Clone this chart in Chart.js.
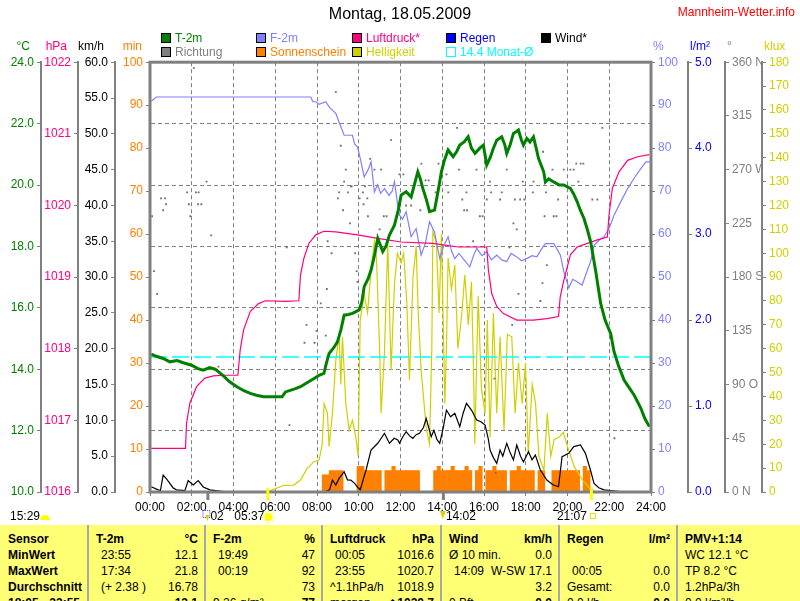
<!DOCTYPE html>
<html>
<head>
<meta charset="utf-8">
<script src="https://cdn.jsdelivr.net/npm/chart.js@4.4.1/dist/chart.umd.min.js"></script>
<style>
  html, body { margin: 0; padding: 0; background: #fff; overflow: hidden; }
  body { width: 800px; height: 601px; position: relative; font-family: Arial, "Liberation Sans", sans-serif; }
  #wrap { position: absolute; left: 0; top: 0; width: 800px; height: 525px; }
  table.stats { position: absolute; left: 0; top: 525px; width: 800px; border-collapse: collapse; table-layout: fixed; background: #ffff73; font-size: 12px; color: #000; }
  table.stats td { padding: 0 6px 0 7px; height: 16px; line-height: 16px; white-space: nowrap; overflow: hidden; border-left: 2px solid #a8a8a8; vertical-align: middle; }
  table.stats td:first-child { border-left: none; padding-left: 8px; font-weight: bold; }
  table.stats tr.head td { font-weight: bold; padding-top: 6px; }
  table.stats .c { display: flex; justify-content: space-between; }
  table.stats .t { padding-left: 5px; }
  table.stats b { font-weight: bold; }
</style>
</head>
<body>
<div id="wrap"><canvas id="wx" width="800" height="525"></canvas></div>

<table class="stats">
  <colgroup><col style="width:88px"><col style="width:117px"><col style="width:117px"><col style="width:119px"><col style="width:118px"><col style="width:118px"><col style="width:123px"></colgroup>
  <tr class="head">
    <td>Sensor</td>
    <td><div class="c"><span>T-2m</span><span>°C</span></div></td>
    <td><div class="c"><span>F-2m</span><span>%</span></div></td>
    <td><div class="c"><span>Luftdruck</span><span>hPa</span></div></td>
    <td><div class="c"><span>Wind</span><span>km/h</span></div></td>
    <td><div class="c"><span>Regen</span><span>l/m²</span></div></td>
    <td>PMV+1:14</td>
  </tr>
  <tr>
    <td>MinWert</td>
    <td><div class="c"><span class="t">23:55</span><span>12.1</span></div></td>
    <td><div class="c"><span class="t">19:49</span><span>47</span></div></td>
    <td><div class="c"><span class="t">00:05</span><span>1016.6</span></div></td>
    <td><div class="c"><span>Ø 10 min.</span><span>0.0</span></div></td>
    <td><div class="c"><span></span><span></span></div></td>
    <td>WC 12.1 °C</td>
  </tr>
  <tr>
    <td>MaxWert</td>
    <td><div class="c"><span class="t">17:34</span><span>21.8</span></div></td>
    <td><div class="c"><span class="t">00:19</span><span>92</span></div></td>
    <td><div class="c"><span class="t">23:55</span><span>1020.7</span></div></td>
    <td><div class="c"><span class="t">14:09</span><span>W-SW 17.1</span></div></td>
    <td><div class="c"><span class="t">00:05</span><span>0.0</span></div></td>
    <td>TP 8.2 °C</td>
  </tr>
  <tr>
    <td>Durchschnitt</td>
    <td><div class="c"><span class="t">(+ 2.38 )</span><span>16.78</span></div></td>
    <td><div class="c"><span></span><span>73</span></div></td>
    <td><div class="c"><span>^1.1hPa/h</span><span>1018.9</span></div></td>
    <td><div class="c"><span></span><span>3.2</span></div></td>
    <td><div class="c"><span>Gesamt:</span><span>0.0</span></div></td>
    <td>1.2hPa/3h</td>
  </tr>
  <tr>
    <td>18:05 - 23:55</td>
    <td><div class="c"><span></span><b>13.1</b></div></td>
    <td><div class="c"><span>9.26 g/m³</span><b>77</b></div></td>
    <td><div class="c"><span>morgen</span><b>◆1020.7</b></div></td>
    <td><div class="c"><span>0 Bft</span><b>0.0</b></div></td>
    <td><div class="c"><span>0.0 l/h</span><b>0.0</b></div></td>
    <td>0.0 l/m²/h</td>
  </tr>
</table>

<script>
// ---- DATA ----
const dayTitle = 'Montag, 18.05.2009';
const monthAvgC = 14.4;

// T-2m, °C
const tempHours = [0.06,0.3,0.63,0.95,1.3,1.59,1.99,2.3,2.55,2.85,3.12,3.52,3.8,4.16,4.5,4.8,5.1,5.44,6.0,6.33,6.49,6.9,7.21,7.5,7.86,8.1,8.33,8.45,8.58,8.8,8.98,9.15,9.3,9.5,9.7,10.02,10.15,10.26,10.45,10.59,10.75,10.91,11.0,11.15,11.3,11.47,11.71,11.9,12.03,12.27,12.51,12.7,12.83,12.95,13.07,13.25,13.39,13.63,13.8,13.96,14.1,14.28,14.52,14.7,14.84,15.05,15.24,15.4,15.57,15.8,15.97,16.13,16.3,16.45,16.61,16.85,17.0,17.09,17.25,17.41,17.57,17.65,17.8,17.89,18.05,18.2,18.37,18.5,18.61,18.86,18.94,19.1,19.34,19.6,19.82,20.14,20.3,20.46,20.6,20.79,20.95,21.11,21.35,21.59,21.8,22.07,22.23,22.45,22.71,22.95,23.19,23.35,23.52,23.7,23.92];
const tempC = [14.49,14.42,14.35,14.24,14.28,14.21,14.13,14.02,13.97,14.05,14.0,13.78,13.6,13.43,13.3,13.21,13.15,13.1,13.1,13.1,13.26,13.35,13.43,13.55,13.7,13.8,13.86,14.2,14.51,14.7,14.89,15.3,15.76,15.78,15.82,15.93,16.2,16.69,16.95,17.23,17.7,18.26,18.1,17.83,18.0,18.37,18.69,19.2,19.67,19.78,19.61,20.1,20.43,20.2,19.89,19.5,19.13,19.18,19.8,20.43,20.8,21.14,20.92,21.1,21.3,21.4,21.57,21.2,21.03,21.2,21.3,20.65,20.9,21.2,21.46,21.57,21.3,21.03,21.3,21.68,21.75,21.79,21.45,21.3,21.52,21.4,21.57,21.2,20.87,20.43,20.1,20.2,20.1,20.0,20.0,19.89,19.7,19.46,19.2,18.91,18.55,18.15,17.2,16.14,15.6,15.16,14.57,14.1,13.65,13.4,13.16,12.95,12.72,12.4,12.13];

// F-2m, %
const rhHours = [0.06,0.3,3,6,7.7,7.8,7.94,8.1,8.42,8.6,8.9,9.1,9.3,9.5,9.7,9.8,9.94,10.1,10.26,10.45,10.59,10.75,10.9,11.05,11.23,11.45,11.6,11.71,11.87,11.95,12.1,12.27,12.51,12.75,12.99,13.2,13.39,13.63,13.88,14.05,14.28,14.45,14.6,14.8,15.0,15.32,15.5,15.65,15.9,16.13,16.35,16.61,16.85,17.09,17.3,17.57,17.8,18.05,18.3,18.53,18.75,18.94,19.34,19.5,19.66,19.82,20.06,20.25,20.46,20.7,20.95,21.1,21.27,21.5,21.75,21.99,22.23,22.55,22.88,23.19,23.52,23.76,23.95];
const rhPct = [90.9,91.9,91.9,91.9,91.9,90.8,90.8,90.2,90.8,89.5,88.1,85.5,83.0,83.0,83.0,81.0,80.3,77.0,73.3,75.0,76.8,69.8,71.5,69.5,70.6,69.0,70.0,72.2,66.7,64.4,63.5,65.2,59.4,61.3,55.1,58.0,62.9,60.5,54.3,57.0,59.4,56.0,54.3,55.5,54.3,52.4,55.0,56.7,55.0,55.9,54.0,55.1,54.0,53.6,55.5,54.7,53.8,54.3,55.0,54.7,56.5,57.8,57.8,56.5,55.1,51.4,47.5,49.5,48.9,48.1,51.6,53.5,57.4,58.5,59.4,61.3,64.4,67.5,70.6,73.0,75.3,76.8,76.8];

// Luftdruck, hPa
const pressHours = [0.06,1.7,1.75,1.91,2.23,2.63,3.04,3.52,4.21,4.32,4.48,4.8,5.2,5.53,6.49,7.13,7.21,7.37,7.61,7.94,8.33,8.9,9.94,10.91,12.03,13.55,14.76,16.13,16.21,16.37,16.61,16.93,17.57,18.37,19.01,19.57,19.65,19.82,20.14,20.46,20.95,21.43,21.91,21.99,22.15,22.47,22.88,23.36,23.92];
const pressHpa = [1016.61,1016.61,1016.96,1017.24,1017.47,1017.59,1017.62,1017.63,1017.63,1017.98,1018.26,1018.52,1018.63,1018.67,1018.66,1018.67,1019.03,1019.26,1019.47,1019.59,1019.64,1019.63,1019.59,1019.54,1019.49,1019.47,1019.42,1019.42,1019.10,1018.77,1018.59,1018.49,1018.40,1018.40,1018.42,1018.45,1018.72,1018.95,1019.31,1019.42,1019.47,1019.52,1019.56,1019.87,1020.24,1020.47,1020.63,1020.68,1020.71];

// Wind, km/h
const windHours = [0.06,0.39,0.5,0.63,0.8,0.95,1.1,1.27,1.67,1.83,2.07,2.31,2.55,2.87,3.52,4.5,8.0,8.42,8.6,8.74,8.9,9.06,9.3,9.46,9.62,9.8,9.94,10.07,10.35,10.59,10.91,11.05,11.23,11.47,11.7,11.87,11.95,12.11,12.27,12.45,12.59,12.75,12.91,13.1,13.23,13.35,13.47,13.6,13.75,13.88,14.05,14.2,14.4,14.6,14.84,15.0,15.16,15.4,15.55,15.65,15.85,16.05,16.2,16.29,16.45,16.61,16.77,16.9,17.09,17.25,17.41,17.57,17.75,17.89,18.13,18.3,18.46,18.7,19.01,19.3,19.57,19.74,20.06,20.3,20.62,20.86,21.1,21.27,21.5,21.75,22.4,22.8,24];
const windKmh = [0.74,0.3,0.2,2.37,1.8,1.2,0.6,0.3,0.2,1.6,1.0,1.6,0.7,0.3,0.05,0,0,0.05,0.3,1.67,0.98,1.9,2.84,1.7,1.67,1.2,0.7,0.3,3.07,5.86,6.8,7.4,8.19,6.8,7.5,7.26,6.8,7.72,8.42,7.8,7.49,8.0,8.19,9.0,10.28,9.0,7.72,8.6,7.3,6.8,9.0,11.44,10.5,10.98,9.12,11.0,12.37,11.44,10.6,10.05,9.8,9.35,7.5,5.86,4.8,4.0,5.86,5.0,6.8,5.5,4.47,6.56,5.0,4.2,5.63,4.5,5.16,3.07,1.67,1.0,0.74,4.93,5.4,6.33,6.56,5.4,3.07,1.2,0.6,0.3,0.1,0,0];

// Helligkeit, klux
const luxHours = [0,5.5,5.84,6.41,6.89,7.21,7.53,7.86,8.1,8.25,8.34,8.5,8.58,8.74,8.9,9.06,9.14,9.22,9.38,9.54,9.7,9.86,9.97,10.07,10.26,10.42,10.59,10.75,10.85,11.0,11.07,11.23,11.39,11.55,11.71,11.85,12.03,12.15,12.3,12.43,12.6,12.75,12.85,12.99,13.1,13.23,13.39,13.5,13.55,13.72,13.85,13.96,14.05,14.12,14.2,14.28,14.44,14.6,14.75,14.92,15.08,15.25,15.4,15.5,15.56,15.72,15.88,16.05,16.16,16.29,16.45,16.61,16.77,16.96,17.12,17.33,17.49,17.65,17.83,17.99,18.12,18.31,18.47,18.63,18.87,19.03,19.2,19.36,19.6,19.8,20.0,20.32,20.72,21.03,21.3,21.6,24];
const luxKlux = [0,0,0.8,2.8,2.9,5.0,9.9,12.7,13.4,20,37,33,19,33,55,66,45,65,37,26,30,23,15,72,83,75,93,105,98,60,33,58,104,51,87,100,96,100,80,47,90,103,75,51,40,27,20,60,109,104,75,108,70,37,60,98,85,95,60,73,91,70,88,50,20,82,43,33,72,23,75,33,65,26,66,65,33,54,37,54,16,45,37,15,9,33,15,22,23,25,19,10.6,5,2,0.3,0,0];

// Sonnenschein, min per 10-minute bin starting 08:20
const sunStartHour = 8 + 20 / 60;
const sunMin = [4,4,5,5,5,5,0,0,0,0,6,6,5,5,5,5,5,0,5,5,6,5,5,5,5,5,5,5,0,0,0,0,5,6,5,5,5,6,5,5,5,6,5,0,5,6,0,5,5,6,5,5,5,0,5,5,6,5,5,5,5,0,5,5,0,0,5,5,5,5,5,5,5,5,0,6,5];

// Richtung, degrees
const dirHours = [2.1,8.9,11.55,9.14,10.55,9.38,10.75,11.07,11.95,2.71,9.3,9.62,9.66,10.3,1.78,2.2,2.33,9.06,9.49,10.2,0.53,0.72,9.0,10.04,10.41,0.77,1.86,2.3,2.46,10.23,0.63,9.25,0.1,1.93,10.44,11.2,11.33,9.58,11.0,2.93,8.51,6.55,8.7,9.83,0.19,9.9,0.34,9.94,8.47,8.18,7.5,7.4,7.88,7.98,8.42,3.28,6.68,21.67,14.71,18.83,13.0,13.82,20.42,20.63,20.76,12.14,14.2,15.64,17.09,14.8,13.2,13.35,16.29,17.86,19.82,20.14,20.3,18.37,19.28,20.52,13.68,14.29,15.16,16.34,16.85,18.34,18.97,12.51,14.96,16.13,16.77,17.48,17.73,17.93,19.55,21.19,21.43,12.27,12.95,15.05,15.19,20.63,15.8,15.93,18.9,19.34,19.47,17.41,17.57,15.48,17.22,19.01,18.8,17.65,18.7,17.35,16.5,16.56,22.25];
const dirDeg = [355,335,295,290,279,270,270,270,266,260,260,256,256,256,251,251,251,251,251,251,246,246,246,246,246,241,241,241,241,241,236,236,231,231,231,231,231,225,220,215,210,205,200,200,185,185,166,176,170,158,140,125,125,135,131,105,56,305,305,285,275,275,275,275,275,266,266,270,270,270,261,261,260,260,270,270,270,260,270,260,251,251,251,251,251,251,251,240,245,245,245,245,245,245,245,245,245,240,236,236,236,236,231,231,231,231,231,225,220,210,205,190,175,166,160,140,95,16,45];

// Sun / moon events (hours) shown under the time axis
const events = [
  { t: 2.75, text: '02', kind: 'moon' },
  { t: 5.62, text: '05:37', kind: 'rise' },
  { t: 14.03, text: '14:02', kind: 'noon' },
  { t: 21.12, text: '21:07', kind: 'set' }
];
const moonText = '15:29';

// ---- STYLE ----
const gray = '#808080';
const cT = '#008000', cRH = '#8080ff', cP = '#ff0080', cRain = '#0000ff', cWind = '#000000';
const cDir = '#808080', cSun = '#ff8000', cLux = '#d0d000', cMonth = '#00ffff';

const pairs = (xs, ys) => xs.map((x, i) => ({ x, y: ys[i] }));

Chart.defaults.font.family = 'Arial, "Liberation Sans", sans-serif';
Chart.defaults.font.size = 12;
Chart.defaults.color = '#000';

function sideAxis(position, weight, min, max, stepSize, color, fmt, width) {
  return {
    type: 'linear', position, weight, min, max,
    afterFit: s => { s.width = width; },
    grid: { drawOnChartArea: false, color: gray, tickLength: 4 },
    border: { display: true, color: gray, width: 2 },
    ticks: { stepSize, color, autoSkip: false, padding: 3, callback: fmt }
  };
}

const scaleC = sideAxis('left', 3, 10, 24, 2, cT, v => v.toFixed(1), 41);
scaleC.grid = { drawOnChartArea: true, color: gray, tickLength: 4 };
scaleC.border = { display: true, color: gray, width: 2, dash: [4, 3] };

const scaleMin = sideAxis('left', 0, 0, 100, 10, cSun, v => v, 35);
scaleMin.border = { display: false };
const scalePct = sideAxis('right', 0, 0, 100, 10, cRH, v => v, 37);
scalePct.border = { display: false };

const dirNames = { 360: '360 N', 270: '270 W', 180: '180 S', 90: '90 O', 0: '0 N' };

// ---- DECORATION PLUGIN: frame, legend, units, events ----
const legendItems = [
  ['T-2m', cT, 161, 38, true], ['F-2m', cRH, 256, 38, true], ['Luftdruck*', cP, 352, 38, true],
  ['Regen', cRain, 446, 38, true], ['Wind*', cWind, 541, 38, true],
  ['Richtung', cDir, 161, 52, true], ['Sonnenschein', cSun, 256, 52, true], ['Helligkeit', cLux, 352, 52, true],
  [monthAvgC + ' Monat-Ø', cMonth, 446, 52, false]
];
const units = [['yC', '°C', cT], ['yP', 'hPa', cP], ['yW', 'km/h', '#000'], ['yMin', 'min', cSun],
               ['yPct', '%', cRH], ['yRain', 'l/m²', cRain], ['yDir', '°', gray], ['yLux', 'klux', cLux]];

const decor = {
  id: 'decor',
  beforeDraw(chart) {
    const { ctx } = chart;
    ctx.save();
    ctx.fillStyle = '#fff';
    ctx.fillRect(0, 0, chart.width, chart.height);
    ctx.restore();
  },
  afterDatasetsDraw(chart) {
    const { ctx, chartArea: a } = chart;
    ctx.save();
    ctx.strokeStyle = gray;
    ctx.lineWidth = 3;
    ctx.strokeRect(a.left, a.top, a.right - a.left, a.bottom - a.top);
    ctx.restore();
  },
  afterDraw(chart) {
    const { ctx, chartArea: a, scales } = chart;
    ctx.save();
    ctx.font = '12px Arial, "Liberation Sans", sans-serif';
    ctx.textBaseline = 'middle';

    ctx.fillStyle = '#ff0000';
    ctx.textAlign = 'right';
    ctx.fillText('Mannheim-Wetter.info', 795, 13);

    legendItems.forEach(([label, color, x, y, filled]) => {
      if (filled) {
        ctx.fillStyle = color;
        ctx.fillRect(x, y - 5, 10, 10);
        ctx.strokeStyle = '#000';
      } else {
        ctx.strokeStyle = color;
      }
      ctx.lineWidth = 1;
      ctx.strokeRect(x + 0.5, y - 4.5, 9, 9);
      ctx.fillStyle = color;
      ctx.textAlign = 'left';
      ctx.fillText(label, x + 14, y + 1);
    });

    units.forEach(([id, text, color]) => {
      const s = scales[id];
      ctx.fillStyle = color;
      if (s.position === 'left') {
        ctx.textAlign = 'right';
        ctx.fillText(text, s.right - (id === 'yMin' ? 8 : 11), 47);
      } else {
        ctx.textAlign = 'left';
        ctx.fillText(text, s.left + 2, 47);
      }
    });

    // event markers under the time axis
    const xs = scales.x;
    const rowY = 517;
    events.forEach(ev => {
      const px = xs.getPixelForValue(ev.t);
      if (ev.kind === 'rise' || ev.kind === 'set') {
        ctx.fillStyle = '#ffff00';
        ctx.fillRect(px - 1, a.bottom - 4, 3, 12);
      } else {
        ctx.fillStyle = gray;
        ctx.fillRect(px - 1, a.bottom, 3, 8);
      }
      ctx.fillStyle = '#000';
      ctx.textAlign = 'left';
      if (ev.kind === 'moon') {
        ctx.strokeStyle = '#4040ff';
        ctx.setLineDash([1, 1]);
        ctx.strokeRect(px - 4.5, rowY - 6.5, 7, 7);
        ctx.setLineDash([]);
        ctx.fillStyle = '#e0d000';
        ctx.beginPath();
        ctx.moveTo(px - 2, rowY - 2); ctx.lineTo(px + 2, rowY - 2); ctx.lineTo(px, rowY + 4);
        ctx.fill();
        ctx.fillStyle = '#000';
        ctx.fillText(ev.text, px + 3, rowY);
      } else if (ev.kind === 'rise') {
        ctx.fillText(ev.text, px - 33, rowY);
        ctx.fillStyle = '#ffff00';
        ctx.beginPath(); ctx.arc(px + 1, rowY, 4, 0, Math.PI * 2); ctx.fill();
        ctx.strokeStyle = '#ffff00';
        for (let k = 0; k < 8; k++) {
          const ang = k * Math.PI / 4;
          ctx.beginPath();
          ctx.moveTo(px + 1 + Math.cos(ang) * 5, rowY + Math.sin(ang) * 5);
          ctx.lineTo(px + 1 + Math.cos(ang) * 7, rowY + Math.sin(ang) * 7);
          ctx.stroke();
        }
      } else if (ev.kind === 'noon') {
        ctx.fillStyle = '#e0d000';
        ctx.beginPath();
        ctx.moveTo(px - 3, rowY - 6); ctx.lineTo(px + 3, rowY - 6); ctx.lineTo(px, rowY + 2);
        ctx.fill();
        ctx.fillStyle = '#000';
        ctx.fillText(ev.text, px + 3, rowY);
      } else {
        ctx.fillText(ev.text, px - 34, rowY);
        ctx.strokeStyle = '#e8e000';
        ctx.strokeRect(px - 0.5, rowY - 3.5, 5, 5);
      }
    });
    ctx.fillStyle = '#000';
    ctx.textAlign = 'left';
    ctx.fillText(moonText, 10, rowY);
    ctx.fillStyle = '#ffff00';
    ctx.beginPath();
    ctx.arc(45, rowY + 3, 5, Math.PI, 0);
    ctx.fill();
    ctx.restore();
  }
};

new Chart(document.getElementById('wx'), {
  type: 'line',
  data: {
    datasets: [
      { label: 'T-2m', data: pairs(tempHours, tempC), yAxisID: 'yC', borderColor: cT, borderWidth: 3, pointRadius: 0, order: 0 },
      { label: 'Luftdruck*', data: pairs(pressHours, pressHpa), yAxisID: 'yP', borderColor: cP, borderWidth: 1.2, pointRadius: 0, order: 1 },
      { label: 'F-2m', data: pairs(rhHours, rhPct), yAxisID: 'yPct', borderColor: cRH, borderWidth: 1.2, pointRadius: 0, order: 2 },
      { label: 'Wind*', data: pairs(windHours, windKmh), yAxisID: 'yW', borderColor: cWind, borderWidth: 1.2, pointRadius: 0, order: 3 },
      { label: 'Richtung', type: 'scatter', data: pairs(dirHours, dirDeg), yAxisID: 'yDir', showLine: false,
        pointStyle: 'rect', pointRadius: 1.3, backgroundColor: '#707070', borderWidth: 0, order: 4 },
      { label: 'Monat-Ø', data: [{ x: 0, y: monthAvgC }, { x: 24, y: monthAvgC }], yAxisID: 'yC',
        borderColor: cMonth, borderWidth: 1.5, borderDash: [17, 5], pointRadius: 0, order: 5 },
      { label: 'Helligkeit', data: pairs(luxHours, luxKlux), yAxisID: 'yLux', borderColor: cLux, borderWidth: 1.2, pointRadius: 0, order: 6 },
      { label: 'Sonnenschein', type: 'bar', data: sunMin.map((v, i) => ({ x: sunStartHour + i / 6, y: v })), yAxisID: 'yMin',
        backgroundColor: cSun, borderWidth: 0, barPercentage: 1, categoryPercentage: 1, order: 7 }
    ]
  },
  options: {
    responsive: false,
    animation: false,
    devicePixelRatio: 1,
    events: [],
    layout: { padding: 0 },
    elements: { line: { tension: 0 } },
    plugins: {
      legend: { display: false },
      tooltip: { enabled: false },
      title: { display: true, text: dayTitle, color: '#000', font: { size: 16, weight: 'normal' }, padding: { top: 5, bottom: 38 } }
    },
    scales: {
      x: {
        type: 'linear', min: 0, max: 24, offset: false,
        afterFit: s => { s.height = 33; },
        grid: { color: gray, tickLength: 4, offset: false },
        border: { display: false, dash: [4, 3] },
        ticks: { stepSize: 2, autoSkip: false, maxRotation: 0, color: '#000', padding: 4,
                 callback: v => String(v).padStart(2, '0') + ':00' }
      },
      yC: scaleC,
      yP: sideAxis('left', 2, 1016, 1022, 1, cP, v => v, 37),
      yW: sideAxis('left', 1, 0, 60, 5, '#000', v => v.toFixed(1), 37),
      yMin: scaleMin,
      yPct: scalePct,
      yRain: sideAxis('right', 1, 0, 5, 1, cRain, v => v.toFixed(1), 37),
      yDir: sideAxis('right', 2, 0, 360, 45, gray, v => dirNames[v] || v, 37),
      yLux: sideAxis('right', 3, 0, 180, 10, cLux, v => v, 38)
    }
  },
  plugins: [decor]
});
</script>
</body>
</html>
